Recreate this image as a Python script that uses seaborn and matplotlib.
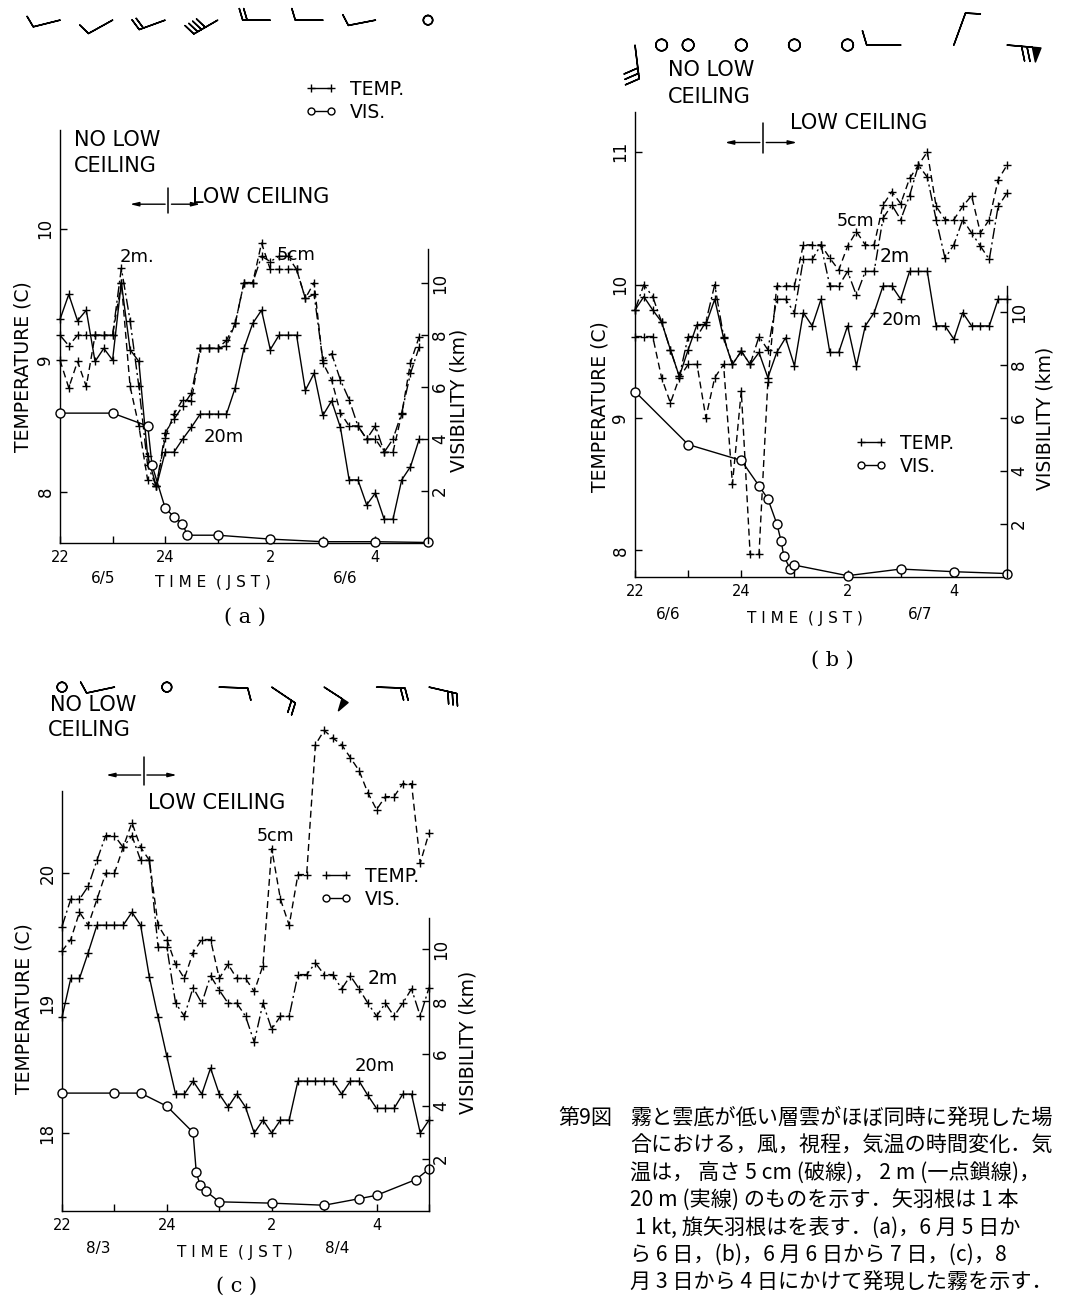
import numpy as np
import pandas as pd
import matplotlib
matplotlib.use("Agg")
import matplotlib.pyplot as plt
from matplotlib.lines import Line2D
import seaborn as sns

# ---------------------------------------------------------------- data
# observation times every 10 minutes (hours, 24 = midnight, 26 = 02 JST)
t10 = 22 + np.arange(43) / 6.0
hours = [22, 23, 24, 25, 26, 27, 28, 29]
hour_labels = ["22", "", "24", "", "2", "", "4", ""]

# (a) 5-6 June
a_t5cm = [9.00, 8.79, 8.99, 8.80, 9.19, 9.19, 9.19, 9.59, 8.80, 8.50, 8.09, 8.04, 8.41, 8.59,
          8.70, 8.69, 9.09, 9.09, 9.09, 9.11, 9.28, 9.59, 9.59, 9.89, 9.69, 9.69, 9.69, 9.69,
          9.47, 9.59, 8.98, 8.85, 8.60, 8.50, 8.50, 8.40, 8.40, 8.30, 8.30, 8.59, 8.98, 9.18]
a_t2m = [9.19, 9.11, 9.19, 9.19, 9.19, 9.19, 9.19, 9.70, 9.30, 8.80, 8.20, 8.04, 8.45, 8.55,
         8.65, 8.75, 9.09, 9.09, 9.09, 9.15, 9.28, 9.59, 9.59, 9.79, 9.75, 9.79, 9.79, 9.69,
         9.47, 9.50, 9.00, 9.05, 8.85, 8.70, 8.50, 8.40, 8.50, 8.30, 8.40, 8.60, 8.90, 9.10]
a_t20m = [9.31, 9.50, 9.30, 9.38, 8.99, 9.09, 9.00, 9.59, 9.08, 8.99, 8.27, 8.04, 8.30, 8.30,
          8.40, 8.49, 8.59, 8.59, 8.59, 8.59, 8.79, 9.09, 9.28, 9.38, 9.08, 9.19, 9.19, 9.19,
          8.77, 8.90, 8.58, 8.69, 8.49, 8.09, 8.09, 7.90, 7.99, 7.79, 7.79, 8.09, 8.19, 8.40]
a_vis_time = [22.0, 23.0, 23.67, 23.75, 24.0, 24.17, 24.33, 24.42, 25.0, 26.0, 27.0, 28.0, 29.0]
a_vis = [5.0, 5.0, 4.5, 3.0, 1.35, 1.0, 0.75, 0.3, 0.3, 0.15, 0.05, 0.05, 0.02]
a_wind_time = [22, 23, 24, 25, 26, 27, 28, 29]
a_wind_dir = [256, 241, 250, 240, 270, 270, 259, 0]
a_wind_spd = [1, 1, 2, 4, 2, 1, 1, 0]
a_ceiling = 24.06

# (b) 6-7 June
b_t5cm = [9.61, 9.61, 9.61, 9.30, 9.11, 9.30, 9.40, 9.40, 9.00, 9.30, 9.40, 8.50, 9.20, 7.97,
          7.97, 9.27, 9.99, 9.99, 9.99, 10.30, 10.30, 10.30, 10.20, 10.11, 10.29, 10.40, 10.30,
          10.30, 10.60, 10.70, 10.61, 10.80, 10.90, 11.00, 10.59, 10.49, 10.49, 10.59, 10.67,
          10.39, 10.49, 10.79, 10.90]
b_t2m = [9.81, 10.00, 9.91, 9.72, 9.51, 9.31, 9.61, 9.61, 9.72, 10.00, 9.61, 9.40, 9.50, 9.40,
         9.61, 9.51, 9.89, 9.89, 9.79, 10.19, 10.19, 10.30, 9.99, 9.99, 10.10, 9.92, 10.10,
         10.10, 10.50, 10.60, 10.49, 10.67, 10.90, 10.81, 10.49, 10.20, 10.30, 10.49, 10.39,
         10.29, 10.19, 10.59, 10.69]
b_t20m = [9.81, 9.91, 9.81, 9.72, 9.51, 9.31, 9.51, 9.70, 9.70, 9.89, 9.60, 9.40, 9.50, 9.40,
          9.49, 9.30, 9.49, 9.60, 9.39, 9.79, 9.69, 9.89, 9.49, 9.49, 9.69, 9.39, 9.69, 9.79,
          9.99, 9.99, 9.89, 10.10, 10.10, 10.10, 9.69, 9.69, 9.59, 9.79, 9.69, 9.69, 9.69,
          9.89, 9.89]
b_vis_time = [22.0, 23.0, 24.0, 24.33, 24.5, 24.67, 24.75, 24.8, 24.92, 25.0, 26.0, 27.0, 28.0, 29.0]
b_vis = [7.0, 5.0, 4.4, 3.45, 2.95, 2.0, 1.35, 0.8, 0.3, 0.45, 0.05, 0.3, 0.2, 0.13]
b_wind_time = [22, 22.5, 23, 24, 25, 26, 27, 28, 29]
b_wind_dir = [173, 0, 0, 0, 0, 0, 270, 20, 95]
b_wind_spd = [3, 0, 0, 0, 0, 0, 1, 1, 7]
b_ceiling = 24.41

# (c) 3-4 August
c_t5cm = [19.40, 19.49, 19.70, 19.60, 19.80, 20.00, 20.00, 20.20, 20.39, 20.20, 20.10, 19.60,
          19.49, 19.30, 19.19, 19.39, 19.49, 19.49, 19.19, 19.30, 19.19, 19.19, 19.09, 19.29,
          20.19, 19.80, 19.60, 19.99, 19.99, 20.99, 21.10, 21.04, 20.99, 20.89, 20.79, 20.62,
          20.49, 20.59, 20.59, 20.69, 20.69, 20.08, 20.31]
c_t2m = [19.59, 19.80, 19.80, 19.90, 20.10, 20.29, 20.29, 20.20, 20.29, 20.10, 20.10, 19.43,
         19.43, 19.00, 18.90, 19.12, 19.00, 19.21, 19.10, 19.00, 19.00, 18.90, 18.70, 19.00,
         18.80, 18.90, 18.90, 19.22, 19.22, 19.31, 19.22, 19.22, 19.11, 19.21, 19.11, 19.00,
         18.90, 19.00, 18.90, 19.00, 19.11, 18.90, 19.12]
c_t20m = [18.89, 19.19, 19.19, 19.39, 19.60, 19.60, 19.60, 19.60, 19.70, 19.60, 19.20, 18.89,
          18.59, 18.30, 18.30, 18.40, 18.30, 18.50, 18.30, 18.20, 18.30, 18.20, 18.00, 18.10,
          18.00, 18.10, 18.10, 18.40, 18.40, 18.40, 18.40, 18.40, 18.30, 18.40, 18.40, 18.29,
          18.19, 18.19, 18.19, 18.30, 18.30, 18.00, 18.10]
c_vis_time = [22.0, 23.0, 23.5, 24.0, 24.5, 24.56, 24.63, 24.75, 25.0, 26.0, 27.0, 27.67, 28.0, 28.75, 29.0]
c_vis = [4.5, 4.5, 4.5, 4.0, 3.0, 1.5, 1.0, 0.75, 0.35, 0.3, 0.22, 0.47, 0.6, 1.2, 1.6]
c_wind_time = [22, 23, 24, 25, 26, 27, 28, 29]
c_wind_dir = [0, 258, 0, 92, 124, 123, 92, 103]
c_wind_spd = [0, 1, 0, 1, 2, 5, 2, 3]
c_ceiling = 23.56

caption_lines = [
    "霧と雲底が低い層雲がほぼ同時に発現した場",
    "合における，風，視程，気温の時間変化．気",
    "温は， 高さ 5 cm (破線)， 2 m (一点鎖線)，",
    "20 m (実線) のものを示す．矢羽根は 1 本",
    " 1 kt, 旗矢羽根はを表す．(a)，6 月 5 日か",
    "ら 6 日，(b)，6 月 6 日から 7 日，(c)，8",
    "月 3 日から 4 日にかけて発現した霧を示す．",
]

# ---------------------------------------------------------------- style
sns.set_style("ticks")
plt.rcParams.update({
    "font.family": ["DejaVu Sans", "Noto Sans CJK JP"],
    "axes.edgecolor": "black", "text.color": "black", "axes.labelcolor": "black",
    "xtick.color": "black", "ytick.color": "black", "axes.linewidth": 1.0,
})

W, H = 1065, 1300
fig = plt.figure(figsize=(W / 100, H / 100), dpi=100)


def ftext(x, y, s, **kw):
    kw.setdefault("va", "center")
    fig.text(x / W, 1 - y / H, s, **kw)


LS = {"5cm": (0, (5, 3)), "2m": (0, (8, 2.5, 1.5, 2.5)), "20m": "-"}


def panel(box, tlim, tspine, tticks, vtop, vspine, temps, vis_t, vis_v,
          wind_t, wind_d, wind_s, wind_y, barb_len, ceil, ceil_y, ceil_l, ceil_r):
    l, t, r, b = box
    ax = fig.add_axes([l / W, 1 - b / H, (r - l) / W, (b - t) / H])
    for key, vals in temps.items():
        df = pd.DataFrame({"time": t10[:len(vals)], "temp": vals})
        sns.lineplot(data=df, x="time", y="temp", ax=ax, color="k", lw=1.0,
                     linestyle=LS[key], marker="+", markersize=6, markeredgewidth=1.0,
                     markeredgecolor="k", estimator=None, legend=False, clip_on=False)
    ax.set_xlim(22, 29)
    ax.set_ylim(*tlim)
    ax.set_xticks(hours)
    ax.set_xticklabels(hour_labels)
    ax.set_yticks(tticks)
    ax.set_yticklabels([str(v) for v in tticks])
    ax.tick_params(axis="y", labelrotation=90, direction="in", length=5, width=1,
                   labelsize=12, pad=4)
    ax.tick_params(axis="x", direction="in", length=5, width=1, labelsize=10.5, pad=5)
    for lab in ax.get_yticklabels():
        lab.set_va("center")
    ax.set_xlabel("")
    ax.set_ylabel("")
    ax.spines["top"].set_visible(False)
    ax.spines["right"].set_visible(False)
    ax.spines["left"].set_bounds(*tspine)

    ax2 = ax.twinx()
    sns.lineplot(x=vis_t, y=vis_v, ax=ax2, color="k", lw=1.0, marker="o", markersize=6.5,
                 markerfacecolor="white", markeredgecolor="k", markeredgewidth=1.0,
                 estimator=None, sort=False, clip_on=False)
    ax2.set_ylim(0, vtop)
    ax2.set_yticks([2, 4, 6, 8, 10])
    ax2.set_yticklabels(["2", "4", "6", "8", "10"])
    ax2.tick_params(axis="y", labelrotation=90, direction="in", length=5, width=1,
                    labelsize=12, pad=2)
    for lab in ax2.get_yticklabels():
        lab.set_va("center")
    ax2.set_ylabel("")
    for s in ["top", "left", "bottom"]:
        ax2.spines[s].set_visible(False)
    ax2.spines["right"].set_bounds(0, vspine)

    # wind barbs (1 barb = 1 kt, flag = 5 kt)
    wd = np.deg2rad(wind_d)
    u = -np.array(wind_s) * np.sin(wd)
    v = -np.array(wind_s) * np.cos(wd)
    ax.barbs(wind_t, [wind_y] * len(wind_t), u, v, transform=ax.get_xaxis_transform(),
             clip_on=False, length=barb_len, lw=1.1, color="k", fill_empty=False,
             barb_increments=dict(half=0.5, full=1, flag=5),
             sizes=dict(emptybarb=0.17, height=0.42, spacing=0.16))

    # low ceiling onset marker
    tr = ax.get_xaxis_transform()
    ax.plot([ceil, ceil], ceil_y, color="k", lw=1.1, transform=tr, clip_on=False)
    ym = ceil_y[0] + (ceil_y[1] - ceil_y[0]) * 0.35
    for end in (ceil_l, ceil_r):
        ax.annotate("", xy=(end, ym), xytext=(ceil + (0.06 if end > ceil else -0.06), ym),
                    xycoords=tr, textcoords=tr,
                    arrowprops=dict(arrowstyle="-|>,head_length=0.5,head_width=0.12",
                                    color="k", lw=1.0, shrinkA=0, shrinkB=0))
    return ax, ax2


def add_legend(ax, x, y):
    h = [Line2D([0], [0], color="k", lw=1.0, marker="+", ms=6, mew=1.0),
         Line2D([0], [0], color="k", lw=1.0, marker="o", ms=5, mfc="white", mew=1.0)]
    ax.legend(h, ["TEMP.", "VIS."], loc="upper left", bbox_to_anchor=(x / W, 1 - y / H),
              bbox_transform=fig.transFigure, frameon=False, numpoints=2, fontsize=13.5,
              handlelength=1.7, handletextpad=0.7, labelspacing=0.2, borderpad=0,
              borderaxespad=0)


# ---------------------------------------------------------------- panel (a)
axa, _ = panel((60, 130, 428, 543), (7.61, 10.75), (7.61, 10.75), [8, 9, 10], 15.9, 11.3,
               {"5cm": a_t5cm, "2m": a_t2m, "20m": a_t20m}, a_vis_time, a_vis,
               a_wind_time, a_wind_dir, a_wind_spd, 1.266, 6.3,
               a_ceiling, (0.799, 0.860), 23.33, 24.67)
add_legend(axa, 305, 80)
ftext(74, 140, "NO LOW", fontsize=15)
ftext(74, 166, "CEILING", fontsize=15)
ftext(192, 197, "LOW CEILING", fontsize=15)
ftext(120, 257, "2m.", fontsize=13)
ftext(277, 255, "5cm", fontsize=13)
ftext(204, 437, "20m", fontsize=13)
ftext(23, 367, "TEMPERATURE (C)", fontsize=13.5, rotation=90, ha="center")
ftext(459, 400, "VISIBILITY (km)", fontsize=13.5, rotation=90, ha="center")
ftext(103, 579, "6/5", fontsize=11, ha="center")
ftext(213, 583, "T I M E  ( J S T )", fontsize=11, ha="center")
ftext(345, 579, "6/6", fontsize=11, ha="center")
ftext(245, 617, "( a )", fontsize=15, ha="center", family="DejaVu Serif")

# ---------------------------------------------------------------- panel (b)
axb, _ = panel((635, 112, 1007, 577), (7.80, 11.30), (7.80, 11.30), [8, 9, 10, 11], 17.55, 11.0,
               {"5cm": b_t5cm, "2m": b_t2m, "20m": b_t20m}, b_vis_time, b_vis,
               b_wind_time, b_wind_dir, b_wind_spd, 1.144, 7.0,
               b_ceiling, (0.912, 0.976), 23.69, 25.05)
add_legend(axb, 855, 434)
ftext(668, 70, "NO LOW", fontsize=15)
ftext(668, 97, "CEILING", fontsize=15)
ftext(790, 123, "LOW CEILING", fontsize=15)
ftext(837, 221, "5cm", fontsize=12.5)
ftext(880, 257, "2m", fontsize=13.5)
ftext(882, 320, "20m", fontsize=13)
ftext(600, 407, "TEMPERATURE (C)", fontsize=13.5, rotation=90, ha="center")
ftext(1045, 418, "VISIBILITY (km)", fontsize=13.5, rotation=90, ha="center")
ftext(668, 614, "6/6", fontsize=11, ha="center")
ftext(805, 619, "T I M E  ( J S T )", fontsize=11, ha="center")
ftext(920, 614, "6/7", fontsize=11, ha="center")
ftext(832, 660, "( b )", fontsize=15, ha="center", family="DejaVu Serif")

# ---------------------------------------------------------------- panel (c)
axc, _ = panel((62, 720, 429, 1211), (17.40, 21.18), (17.40, 20.63), [18, 19, 20], 18.74, 11.2,
               {"5cm": c_t5cm, "2m": c_t2m, "20m": c_t20m}, c_vis_time, c_vis,
               c_wind_time, c_wind_dir, c_wind_spd, 1.067, 6.4,
               c_ceiling, (0.868, 0.925), 22.84, 24.19)
add_legend(axc, 320, 867)
ftext(50, 705, "NO LOW", fontsize=15)
ftext(48, 730, "CEILING", fontsize=15)
ftext(148, 803, "LOW CEILING", fontsize=15)
ftext(257, 836, "5cm", fontsize=12.5)
ftext(368, 978, "2m", fontsize=13.5)
ftext(355, 1066, "20m", fontsize=13)
ftext(24, 1009, "TEMPERATURE (C)", fontsize=13.5, rotation=90, ha="center")
ftext(468, 1042, "VISIBILITY (km)", fontsize=13.5, rotation=90, ha="center")
ftext(98, 1248, "8/3", fontsize=11, ha="center")
ftext(235, 1252, "T I M E  ( J S T )", fontsize=11, ha="center")
ftext(337, 1248, "8/4", fontsize=11, ha="center")
ftext(237, 1286, "( c )", fontsize=15, ha="center", family="DejaVu Serif")

# ---------------------------------------------------------------- caption
cap_font = ["Noto Sans CJK JP", "DejaVu Sans"]
ftext(558, 1118, "第9図", fontsize=15.2, family=cap_font)
for i, line in enumerate(caption_lines):
    ftext(630, 1118 + 27.4 * i, line, fontsize=15.2, family=cap_font)

fig.savefig("out.png", dpi=100, facecolor="white")
